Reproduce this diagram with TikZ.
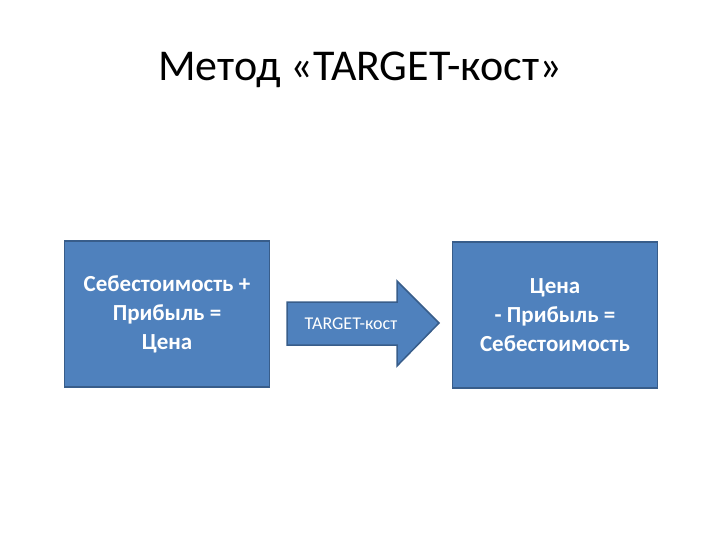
\documentclass[tikz,border=0pt]{standalone}
\usepackage{fontspec}
\setmainfont{Carlito}
\usetikzlibrary{shapes.arrows}
\definecolor{boxfill}{HTML}{4F81BD}
\definecolor{boxline}{HTML}{385D8A}
\tikzset{
  bluebox/.style={draw=boxline, line width=1.5pt, fill=boxfill, text=white, align=center, font=\bfseries\fontsize{23}{29}\selectfont},
}
\begin{document}
\begin{tikzpicture}[x=1pt,y=-1pt]
\useasboundingbox (0,0) rectangle (720,540);
\node (title) at (360,70) {\fontsize{44}{52}\selectfont Метод «TARGET-кост»};
\node[bluebox, minimum width=205pt, minimum height=146pt] (left) at (167,314) {Себестоимость +\\Прибыль =\\Цена};
\node[bluebox, minimum width=205pt, minimum height=146pt] (right) at (555,315) {Цена\\- Прибыль =\\Себестоимость};
\draw[boxline, line width=1.5pt, fill=boxfill] (287,302) -- (397,302) -- (397,281) -- (439,323) -- (397,366) -- (397,345) -- (287,345) -- cycle;
\node[text=white, font=\fontsize{18}{20}\selectfont, anchor=center] (arrowtext) at (351,324) {TARGET-кост};
\end{tikzpicture}
\end{document}
